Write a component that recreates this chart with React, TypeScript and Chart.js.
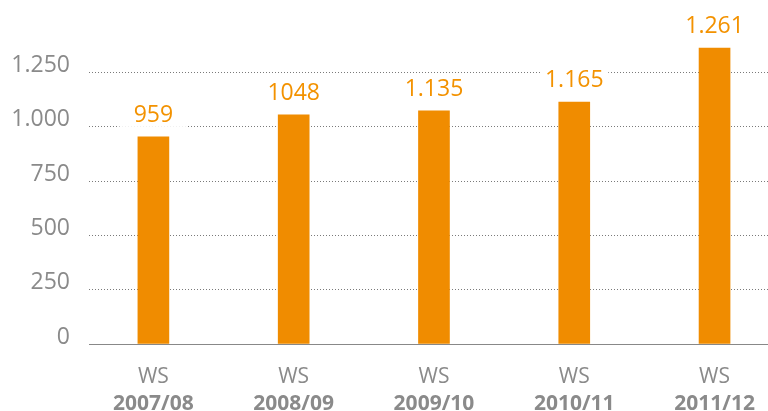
import React, { useEffect, useRef } from 'react';
import { Chart, registerables } from 'chart.js';

Chart.register(...registerables);

// ---- data ----
const categoryPrefix = ['WS', 'WS', 'WS', 'WS', 'WS'];
const categories = ['2007/08', '2008/09', '2009/10', '2010/11', '2011/12'];
const barValues = [953, 1054, 1073, 1113, 1362];
const valueLabels = ['959', '1048', '1.135', '1.165', '1.261'];
const yTicks = [0, 250, 500, 750, 1000, 1250];
const yTickLabels = ['0', '250', '500', '750', '1.000', '1.250'];

const ORANGE = '#f08c00';
const LABEL_ORANGE = '#f39200';
const GRAY = '#8a8a8a';
const FONT = "'Open Sans', 'DejaVu Sans', sans-serif";

const valueLabelPlugin = {
  id: 'valueLabels',
  afterDatasetsDraw(chart: any) {
    const meta = chart.getDatasetMeta(0);
    const ctx = chart.ctx;
    ctx.save();
    ctx.font = `23px ${FONT}`;
    ctx.textAlign = 'center';
    ctx.textBaseline = 'alphabetic';
    meta.data.forEach((el: any, i: number) => {
      const base = el.y - 15;
      ctx.fillStyle = '#ffffff';
      ctx.fillRect(el.x - 34, base - 20, 68, 25);
      ctx.fillStyle = LABEL_ORANGE;
      ctx.fillText(valueLabels[i], el.x, base);
    });
    ctx.restore();
  },
};

export default function App() {
  const ref = useRef<HTMLCanvasElement>(null);

  useEffect(() => {
    if (!ref.current) return;
    const xMin = -0.459;
    const xMax = 4.381;
    const chart = new Chart(ref.current, {
      type: 'bar',
      data: {
        datasets: [
          {
            data: barValues.map((v, i) => ({ x: i, y: v })),
            backgroundColor: ORANGE,
            barThickness: 31,
            xAxisID: 'x',
            yAxisID: 'y',
          } as any,
        ],
      },
      plugins: [valueLabelPlugin],
      options: {
        animation: false,
        responsive: false,
        devicePixelRatio: 1,
        layout: { padding: { top: 18, left: 0, right: 0, bottom: 0 } },
        plugins: {
          legend: { display: false },
          tooltip: { enabled: false },
        },
        scales: {
          x: {
            type: 'linear',
            position: 'bottom',
            offset: false,
            weight: 0,
            min: xMin,
            max: xMax,
            grid: { display: false, drawTicks: false },
            border: { display: true, color: '#888888', width: 1 },
            afterBuildTicks: (s: any) => {
              s.ticks = categories.map((_, i) => ({ value: i }));
            },
            afterFit: (s: any) => {
              s.height = 41;
              s.paddingLeft = 0;
              s.paddingRight = 0;
            },
            ticks: {
              autoSkip: false,
              maxRotation: 0,
              padding: 20,
              color: GRAY,
              font: { family: FONT, size: 21 },
              callback: (v: any) => categoryPrefix[v as number],
            },
          },
          x2: {
            type: 'linear',
            position: 'bottom',
            offset: false,
            weight: 1,
            min: xMin,
            max: xMax,
            grid: { display: false, drawTicks: false },
            border: { display: false },
            afterBuildTicks: (s: any) => {
              s.ticks = categories.map((_, i) => ({ value: i }));
            },
            afterFit: (s: any) => {
              s.height = 26;
              s.paddingLeft = 0;
              s.paddingRight = 0;
            },
            ticks: {
              autoSkip: false,
              maxRotation: 0,
              padding: 6,
              color: GRAY,
              font: { family: FONT, size: 21, weight: 'bold' },
              callback: (v: any) => categories[v as number],
            },
          },
          y: {
            min: 0,
            max: 1500,
            grid: { color: '#7a7a7a', lineWidth: 1, drawTicks: false },
            border: { display: false, dash: [1, 2] },
            afterBuildTicks: (s: any) => {
              s.ticks = yTicks.map((v) => ({ value: v }));
            },
            afterFit: (s: any) => {
              s.width = 89;
              s.paddingTop = 0;
              s.paddingBottom = 0;
            },
            ticks: {
              padding: 19,
              labelOffset: -7,
              color: GRAY,
              font: { family: FONT, size: 23 },
              callback: (v: any) => yTickLabels[yTicks.indexOf(v as number)],
            },
          },
        },
      } as any,
    });
    return () => chart.destroy();
  }, []);

  return (
    <div style={{ position: 'fixed', left: 0, top: 0, width: 768, height: 411, background: '#fff' }}>
      <canvas ref={ref} width={768} height={411} style={{ display: 'block', width: 768, height: 411 }} />
    </div>
  );
}
